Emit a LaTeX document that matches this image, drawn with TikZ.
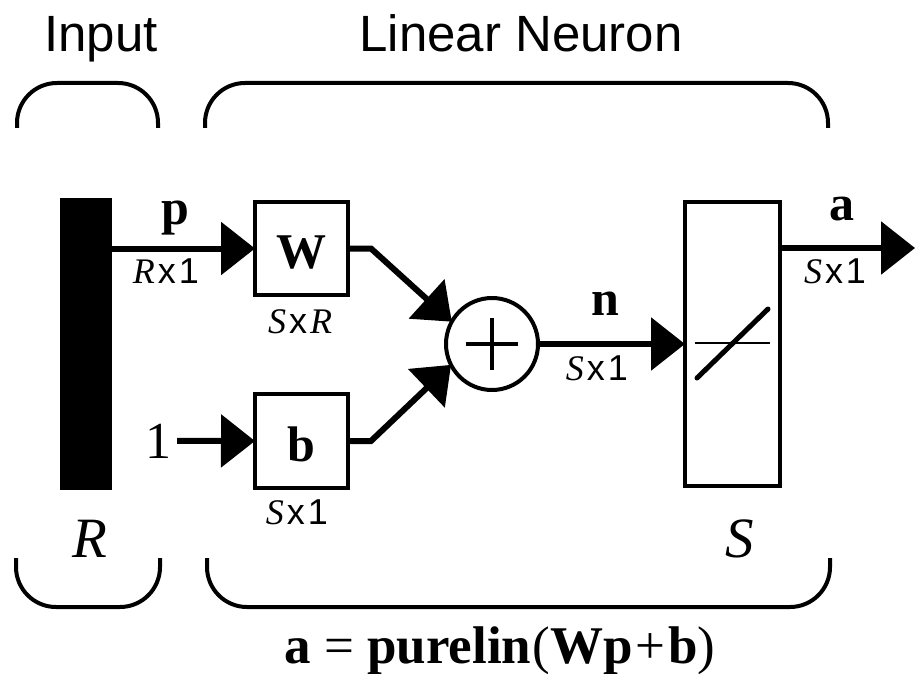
\documentclass[tikz,border=0pt]{standalone}
\usepackage{fontspec}
\setmainfont{Liberation Serif}
\newfontfamily\hv{Liberation Sans}
\usetikzlibrary{arrows.meta}
\newcommand\dimlab[2]{{\itshape #1}\kern3pt{\hv x}\kern3pt#2}
\begin{document}
\begin{tikzpicture}[x=1pt,y=-1pt,
  box/.style={draw, line width=4pt, inner sep=0pt, outer sep=0pt},
  arr/.style={line width=6pt, -{Triangle[length=34pt,width=52pt]}},
  bracket/.style={line width=4pt, rounded corners=40pt},
  bigbf/.style={font=\fontsize{50}{60}\selectfont\bfseries, inner sep=0pt, anchor=base},
  dimtxt/.style={font=\fontsize{36}{42}\selectfont, inner sep=0pt, anchor=base},
  bigit/.style={font=\fontsize{57}{66}\selectfont\itshape, inner sep=0pt, anchor=base},
  title/.style={font=\fontsize{51}{60}\selectfont\hv, inner sep=0pt, anchor=base}]
\useasboundingbox (0,0) rectangle (915,674);

% titles
\node[title] (tin) at (101,52) {Input};
\node[title] (tlin) at (521,52) {Linear Neuron};

% brackets
\draw[bracket] (17,128) -- (17,83) -- (158,83) -- (158,128);
\draw[bracket] (205,128) -- (205,83) -- (828,83) -- (828,128);
\draw[bracket] (16,558) -- (16,607) -- (160,607) -- (160,558);
\draw[bracket] (207,558) -- (207,607) -- (830,607) -- (830,558);

% input bar
\node[fill=black, inner sep=0pt, minimum width=52pt, minimum height=292pt] (bar) at (86,344) {};

% W and b boxes
\node[box, minimum width=93pt, minimum height=93pt] (W) at (301.5,248.5) {};
\node[bigbf] (Wt) at (301.5,268) {W};
\node[box, minimum width=93pt, minimum height=94pt] (b) at (301.5,441) {};
\node[bigbf] (bt) at (301.5,461) {b};

% sum
\node[circle, draw, line width=4pt, minimum size=92pt, inner sep=0pt, outer sep=0pt] (sum) at (492,344) {};
\draw[line width=4pt] ([xshift=-26pt]sum.center) -- ([xshift=26pt]sum.center);
\draw[line width=4pt] ([yshift=-26pt]sum.center) -- ([yshift=26pt]sum.center);

% transfer box
\node[box, minimum width=95pt, minimum height=284pt] (Sb) at (732.5,344) {};
\draw[line width=2pt] (695,343) -- (770,343);
\draw[line width=5pt, line cap=round] (697,378) -- (768,309);

% one
\node[font=\fontsize{52}{60}\selectfont, inner sep=0pt, anchor=base] (one) at (158,458) {1};

% connectors
\draw[arr] (bar.east |- W.west) -- (W.west);
\draw[arr] ([xshift=6pt]one.east) -- (b.west);
\draw[arr, line join=miter] (W.east) -- ++(23,0) -- (sum.151);
\draw[arr, line join=miter] (b.east) -- ++(23,0) -- (sum.207);
\draw[arr] (sum.east) -- (Sb.west);
\coordinate (outtip) at (915,248);
\draw[arr] (Sb.east |- outtip) -- (outtip);

% labels
\node[bigbf] (pl) at (175,224) {p};
\node[dimtxt] (pd) at (166,283) {\dimlab{R}{\hv 1}};
\node[dimtxt] (Wd) at (300,333) {\dimlab{S}{\itshape R}};
\node[dimtxt] (bd) at (297,524) {\dimlab{S}{\hv 1}};
\node[bigbf] (nl) at (605,315) {n};
\node[dimtxt] (nd) at (597,380) {\dimlab{S}{\hv 1}};
\node[bigbf] (al) at (842,220) {a};
\node[dimtxt] (ad) at (835,283) {\dimlab{S}{\hv 1}};
\node[bigit] (Rl) at (90,557) {R};
\node[bigit] (Sl) at (740,557) {S};

% formula
\node[font=\fontsize{53}{60}\selectfont, inner sep=0pt, anchor=base] (formula) at (500,663)
  {\textbf{a}~=~\textbf{purelin}\kern1pt(\textbf{Wp}\kern3pt+\kern3pt\textbf{b})};
\end{tikzpicture}
\end{document}
